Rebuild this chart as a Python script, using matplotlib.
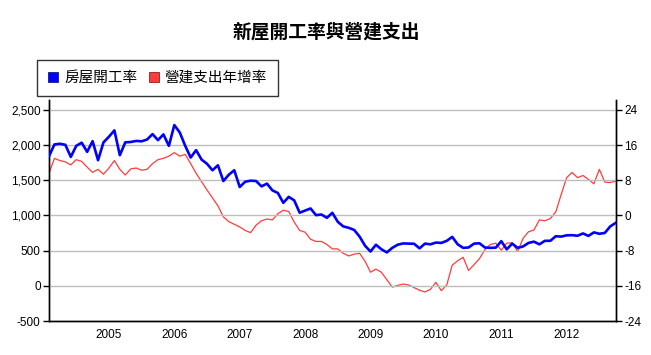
import numpy as np
import matplotlib
matplotlib.use("Agg")
import matplotlib.pyplot as plt
from matplotlib.patches import Patch

plt.rcParams['font.family'] = ['Liberation Sans', 'Noto Sans CJK TC', 'DejaVu Sans']

# monthly, Feb 2004 .. Oct 2012
start_year = 2004
first_month = 1  # months after Jan 2004

starts = [1843, 2010, 2020, 2005, 1833, 1990, 2035, 1905, 2057, 1786, 2040,
          2120, 2210, 1857, 2040, 2045, 2060, 2055, 2080, 2157, 2071, 2153, 1990,
          2286, 2180, 1990, 1824, 1929, 1795, 1735, 1643, 1714, 1490, 1580, 1643,
          1405, 1480, 1495, 1490, 1414, 1453, 1357, 1320, 1180, 1265, 1215, 1040,
          1070, 1100, 1005, 1014, 967, 1038, 910, 845, 825, 795, 700, 570,
          488, 584, 520, 475, 540, 585, 603, 600, 598, 533, 600, 590,
          615, 610, 640, 696, 590, 540, 545, 600, 605, 545, 540, 543,
          635, 519, 600, 540, 560, 610, 628, 590, 640, 640, 705, 700,
          718, 720, 712, 745, 710, 760, 740, 752, 845, 895]

spending_yoy = [9.6, 13.0, 12.5, 12.2, 11.5, 12.7, 12.3, 11.0, 9.8, 10.5, 9.4,
                10.8, 12.5, 10.5, 9.2, 10.6, 10.8, 10.3, 10.5, 11.8, 12.7, 13.0, 13.5,
                14.3, 13.5, 13.9, 11.8, 9.6, 7.7, 5.8, 4.0, 2.2, -0.3, -1.4, -2.0,
                -2.6, -3.4, -3.9, -2.2, -1.2, -0.8, -1.0, 0.4, 1.2, 0.9, -1.5, -3.4,
                -3.8, -5.4, -5.9, -5.9, -6.6, -7.6, -7.6, -8.6, -9.2, -8.8, -8.6, -10.4,
                -12.9, -12.2, -12.9, -14.6, -16.3, -15.9, -15.6, -15.8, -16.4, -17.0, -17.4, -16.8,
                -15.2, -17.1, -15.8, -11.3, -10.3, -9.5, -12.5, -11.2, -9.8, -7.8, -6.6, -6.3,
                -7.9, -6.3, -6.2, -8.2, -5.2, -3.7, -3.3, -1.0, -1.2, -0.7, 0.8, 4.8,
                8.6, 9.8, 8.6, 9.1, 8.2, 7.2, 10.5, 7.6, 7.5, 7.8]

year_ticks = [2005, 2006, 2007, 2008, 2009, 2010, 2011, 2012]
left_ticks = [-500, 0, 500, 1000, 1500, 2000, 2500]
right_ticks = [-24, -16, -8, 0, 8, 16, 24]

title = "新屋開工率與營建支出"
labels = ["房屋開工率", "營建支出年增率"]
blue = "#0000FF"
red = "#FF3B3B"

x = start_year + (first_month + np.arange(len(starts))) / 12.0

fig = plt.figure(figsize=(6.51, 3.55), dpi=100)
ax = fig.add_axes([49 / 651, 34 / 355, 566.7 / 651, 221 / 355])
ax2 = ax.twinx()

ax.plot(x, starts, color=blue, lw=1.9, zorder=3)
ax2.plot(x, spending_yoy, color=red, lw=0.9, zorder=2)

ax.set_xlim(x[0], x[-1])
ax.set_ylim(-500, 2642)
ax2.set_ylim(-24, 26.27)
ax.set_xticks(year_ticks)
ax.set_xticklabels([str(y) for y in year_ticks])
ax.set_yticks(left_ticks)
ax.set_yticklabels([f"{v:,}" for v in left_ticks])
ax2.set_yticks(right_ticks)
ax2.set_yticklabels([str(v) for v in right_ticks])

ax.grid(axis='y', color='#BEBEBE', lw=1.0)
ax.set_axisbelow(True)
ax2.set_zorder(ax.get_zorder() - 1)
ax.patch.set_visible(False)

for a in (ax, ax2):
    a.spines['top'].set_visible(False)
    for s in a.spines.values():
        s.set_linewidth(1.0)
        s.set_color('black')
ax.tick_params(axis='y', length=4, width=1, labelsize=8.5, pad=2)
ax2.tick_params(axis='y', length=4, width=1, labelsize=8.5, pad=2)
ax.tick_params(axis='x', length=0, labelsize=8.5, pad=6)

fig.text(326 / 651, 1 - 32 / 355, title, ha='center', va='center',
         fontsize=13.5, fontweight='bold', family=['Noto Sans CJK TC', 'DejaVu Sans'])

handles = [Patch(facecolor=blue, edgecolor='#000080', lw=0.5),
           Patch(facecolor=red, edgecolor='#800000', lw=0.5)]
leg = fig.legend(handles, labels, loc='upper left',
                 bbox_to_anchor=(37 / 651, 1 - 60 / 355),
                 ncol=2, frameon=True, fancybox=False,
                 prop={'family': ['Noto Sans CJK TC', 'DejaVu Sans'], 'size': 10.5},
                 handlelength=0.7, handleheight=0.7, handletextpad=0.4,
                 columnspacing=0.8, borderpad=0.75, borderaxespad=0)
leg.get_frame().set_edgecolor('black')
leg.get_frame().set_linewidth(1.0)

fig.savefig("out.png", dpi=100)
